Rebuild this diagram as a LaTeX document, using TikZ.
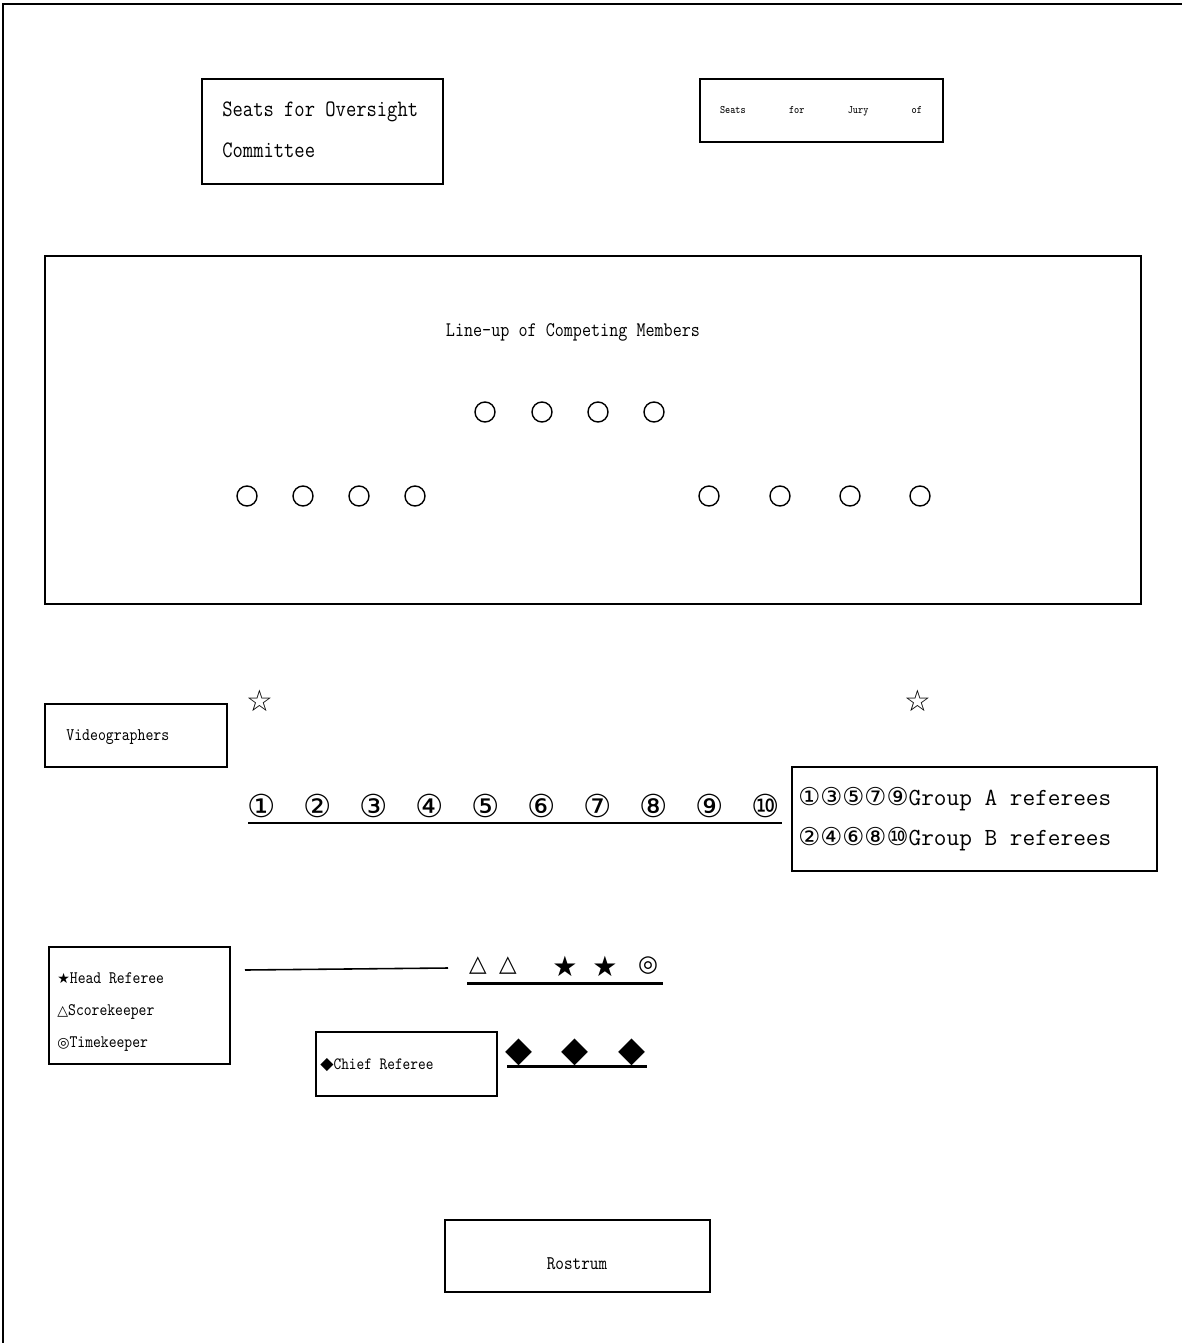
\documentclass[tikz,border=0pt]{standalone}
\usepackage{fontspec}
\setmainfont{Latin Modern Mono}[FakeStretch=0.85]
\newfontfamily\widetxt{Latin Modern Mono}
\newfontfamily\symf{DejaVu Sans}
\newlength\px
\setlength\px{0.02cm}
\tikzset{
  roombox/.style={draw, line width=1pt, inner sep=0pt},
  lbl/.style={inner sep=0pt, anchor=west, text height=0.7em, text depth=0.2em},
  seat/.style={circle, draw, line width=0.8pt, minimum size=20\px, inner sep=0pt},
  sign/.style={inner sep=0pt, font=\symf\fontsize{13}{13}\selectfont},
  benchline/.style={line width=1.7pt}
}
\begin{document}
\begin{tikzpicture}[x=0.02cm, y=-0.02cm]
            \useasboundingbox (0,0) rectangle (1182,1343);
            \draw [line width=1.4pt] (1182,4) -- (3,4) -- (3,1343);
            \node [roombox, minimum width=241\px, minimum height=105\px] (oversight) at (322.5,131.5) {};
            \node [lbl, font=\fontsize{13.4}{13.4}\selectfont] (oversight-a) at (222,112) {Seats for Oversight};
            \node [lbl, font=\fontsize{13.4}{13.4}\selectfont] (oversight-b) at (222,153) {Committee};
            \node [roombox, minimum width=243\px, minimum height=63\px] (jury) at (821.5,110.5) {};
            \node [inner sep=0pt, font=\fontsize{6.5}{6.5}\selectfont] (jury-t) at (821,111) {\makebox[202\px]{Seats\hfill for\hfill Jury\hfill of}};
            \node [roombox, minimum width=1096\px, minimum height=348\px] (lineup) at (593,430) {};
            \node [inner sep=0pt, font=\fontsize{11.8}{11.8}\selectfont] (lineup-t) at (573,332) {Line-up of Competing Members};
            \foreach \x [count=\i] in {485,542,598,654}
              \node [seat] (front\i) at (\x,412) {};
            \foreach \x [count=\i] in {247,303,359,415}
              \node [seat] (left\i) at (\x,496) {};
            \foreach \x [count=\i] in {709,780,850,920}
              \node [seat] (right\i) at (\x,496) {};
            \node [sign, font=\symf\fontsize{17}{17}\selectfont] (cam1) at (260,701) {☆};
            \node [sign, font=\symf\fontsize{17}{17}\selectfont] (cam2) at (918,701) {☆};
            \node [roombox, minimum width=182\px, minimum height=63\px] (video) at (136,735.5) {};
            \node [lbl, font=\fontsize{10.1}{10.1}\selectfont] (video-t) at (66,736) {Videographers};
            \foreach \c [count=\i] in {①,②,③,④,⑤,⑥,⑦,⑧,⑨,⑩}
              \node [sign, font=\symf\fontsize{18}{18}\selectfont] (ref\i) at ({262+56*(\i-1)},806) {\c};
            \coordinate (refline-l) at (248,823);
            \coordinate (refline-r) at (782,823);
            \draw [benchline, line width=1.3pt] (refline-l) -- (refline-r);
            \node [roombox, minimum width=365\px, minimum height=104\px] (groups) at (974.5,819) {};
            \node [lbl, font=\widetxt\fontsize{14}{14}\selectfont] (groups-a) at (798,801) {{\symf\fontsize{14}{14}\selectfont ①③⑤⑦⑨}Group A referees};
            \node [lbl, font=\widetxt\fontsize{14}{14}\selectfont] (groups-b) at (798,841) {{\symf\fontsize{14}{14}\selectfont ②④⑥⑧⑩}Group B referees};
            \node [roombox, minimum width=181\px, minimum height=117\px] (legend) at (139.5,1005.5) {};
            \node [lbl, font=\fontsize{10}{10}\selectfont] (legend-a) at (57,979) {{\symf\fontsize{8}{8}\selectfont ★}Head Referee};
            \node [lbl, font=\fontsize{10}{10}\selectfont] (legend-b) at (57,1011) {{\symf\fontsize{8}{8}\selectfont △}Scorekeeper};
            \node [lbl, font=\fontsize{10}{10}\selectfont] (legend-c) at (57,1043) {{\symf\fontsize{8}{8}\selectfont ◎}Timekeeper};
            \coordinate (lead-a) at (245,970);
            \coordinate (lead-b) at (448,968);
            \draw [line width=0.9pt] (lead-a) -- (lead-b);
            \node [sign] (score1) at (478,966) {△};
            \node [sign] (score2) at (508,966) {△};
            \node [sign, font=\symf\fontsize{16}{16}\selectfont] (head1) at (565,966) {★};
            \node [sign, font=\symf\fontsize{16}{16}\selectfont] (head2) at (605,966) {★};
            \node [sign] (timer) at (648,966) {◎};
            \coordinate (tableline-l) at (467,983);
            \coordinate (tableline-r) at (663,983);
            \draw [benchline] (tableline-l) -- (tableline-r);
            \node [roombox, minimum width=181\px, minimum height=64\px] (chief) at (406.5,1064) {};
            \node [lbl, font=\fontsize{9.8}{9.8}\selectfont] (chief-t) at (320,1065) {{\symf ◆}Chief Referee};
            \foreach \x [count=\i] in {519,575,632}
              \node [sign, font=\symf\fontsize{20}{20}\selectfont] (chief\i) at (\x,1052) {◆};
            \coordinate (chiefline-l) at (507,1066);
            \coordinate (chiefline-r) at (647,1066);
            \draw [benchline] (chiefline-l) -- (chiefline-r);
            \node [roombox, minimum width=265\px, minimum height=72\px] (rostrum) at (577.5,1256) {};
            \node [inner sep=0pt, font=\fontsize{11}{11}\selectfont] (rostrum-t) at (577,1264) {Rostrum};
\end{tikzpicture}
\end{document}
